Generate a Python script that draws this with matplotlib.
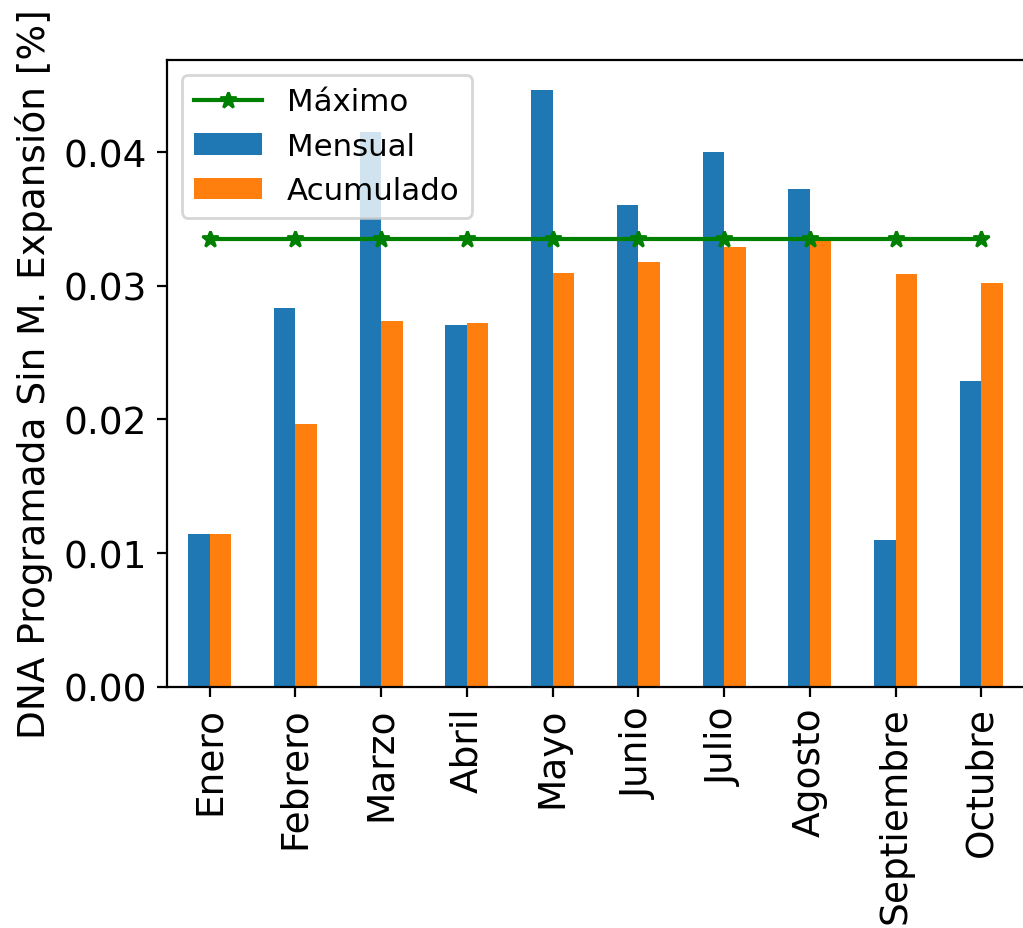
import numpy as np
import matplotlib
matplotlib.use("Agg")
import matplotlib.pyplot as plt
from matplotlib.lines import Line2D
from matplotlib.patches import Patch

meses = ["Enero", "Febrero", "Marzo", "Abril", "Mayo", "Junio",
         "Julio", "Agosto", "Septiembre", "Octubre"]
mensual = [0.01140, 0.02833, 0.04152, 0.02703, 0.04468, 0.03607,
           0.03998, 0.03722, 0.01095, 0.02288]
acumulado = [0.01140, 0.01962, 0.02733, 0.02718, 0.03094, 0.03179,
             0.03293, 0.03338, 0.03091, 0.03020]
maximo = [0.03347] * len(meses)

DPI = 200
W, H = 1023, 929
fig = plt.figure(figsize=(W / DPI, H / DPI), dpi=DPI)
left, right = 166.7, 1024.3
top, bottom = 60.7, 687.7
ax = fig.add_axes([left / W, (H - bottom) / H, (right - left) / W, (bottom - top) / H])

x = np.arange(len(meses))
bw = 0.25
ax.bar(x - bw / 2, mensual, width=bw, color="#1f77b4", label="Mensual")
ax.bar(x + bw / 2, acumulado, width=bw, color="#ff7f0e", label="Acumulado")
ax.plot(x, maximo, color="green", marker="*", markersize=6, linewidth=1.5, label="Máximo")

ax.set_xlim(-0.5, len(meses) - 0.5)
ymax = max(mensual) * 1.05
ax.set_ylim(0, ymax)
ax.set_yticks([0.00, 0.01, 0.02, 0.03, 0.04])
ax.set_yticklabels(["0.00", "0.01", "0.02", "0.03", "0.04"])
ax.set_xticks(x)
ax.set_xticklabels(meses, rotation=90)
ax.tick_params(axis="both", labelsize=13.5)
ax.set_ylabel("DNA Programada Sin M. Expansión [%]", fontsize=13.5)

handles = [
    Line2D([0], [0], color="green", marker="*", markersize=6, linewidth=1.5),
    Patch(facecolor="#1f77b4"),
    Patch(facecolor="#ff7f0e"),
]
ax.legend(handles, ["Máximo", "Mensual", "Acumulado"], loc="upper left",
          fontsize=11.1, handlelength=2.2)

fig.savefig("out.png", dpi=DPI)
